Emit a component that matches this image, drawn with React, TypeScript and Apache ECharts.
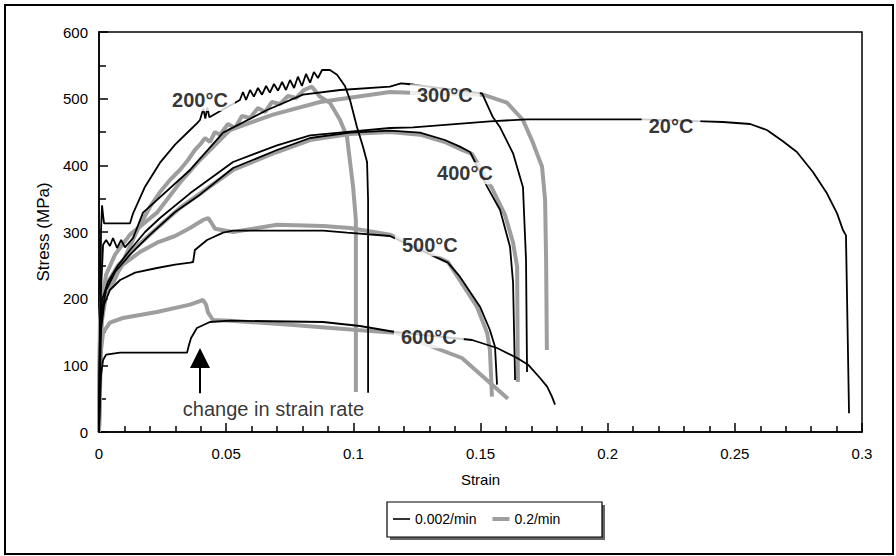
import React, { useEffect, useRef } from 'react';
import * as echarts from 'echarts';

// Stress–strain curves: [strain, stress MPa]
const black20 = [[0,0],[0.0002,108],[0.0004,168],[0.0012,198],[0.0035,225],[0.0075,250],[0.0122,273],[0.0181,300],[0.024,321],[0.0358,358],[0.0527,405],[0.07,430],[0.083,445],[0.1144,456],[0.1235,457],[0.1537,466],[0.1683,469],[0.2139,469],[0.2379,466],[0.2453,465],[0.256,462],[0.2626,453],[0.2689,436],[0.2744,420],[0.2807,390],[0.2862,358],[0.2902,328],[0.2925,303],[0.2937,295],[0.2949,28]];

const black200 = [[0,0],[0.0004,153],[0.0008,303],[0.0012,340],[0.0016,325],[0.002,313],[0.0122,313],[0.0134,328],[0.0181,368],[0.024,404],[0.0299,431],[0.0358,453],[0.0385,463],[0.0397,468],[0.041,485],[0.0418,470],[0.0426,487],[0.0434,472],[0.047,480],[0.0554,498],[0.0566,510],[0.0578,498],[0.0594,513],[0.0609,503],[0.0625,516],[0.0641,506],[0.0657,519],[0.0672,509],[0.0688,522],[0.0704,512],[0.072,525],[0.0735,513],[0.0751,528],[0.0767,516],[0.0782,533],[0.0798,519],[0.0814,537],[0.083,524],[0.0845,540],[0.0861,531],[0.0877,543],[0.0908,543],[0.0936,536],[0.0967,519],[0.0987,498],[0.1014,458],[0.1038,428],[0.1054,405],[0.1058,348],[0.1058,59]];

const grey200 = [[0,0],[0.0004,168],[0.0012,210],[0.0028,222],[0.0051,219],[0.0075,240],[0.0122,279],[0.0161,311],[0.0201,338],[0.024,360],[0.0279,378],[0.0318,393],[0.035,408],[0.0377,423],[0.0397,431],[0.0417,441],[0.0436,435],[0.0456,450],[0.0476,446],[0.0507,462],[0.0535,456],[0.0562,474],[0.0594,471],[0.0625,486],[0.0653,480],[0.068,495],[0.0712,492],[0.0743,504],[0.0775,501],[0.0806,513],[0.0837,518],[0.0869,503],[0.0908,494],[0.0948,468],[0.0975,443],[0.0999,368],[0.101,318],[0.101,60]];

const black300 = [[0,0],[0.0004,153],[0.0008,213],[0.0016,281],[0.0028,288],[0.0043,279],[0.0055,291],[0.0071,276],[0.0087,288],[0.0102,277],[0.0118,284],[0.0134,291],[0.0173,329],[0.0358,393],[0.0488,449],[0.0661,483],[0.0802,506],[0.0948,513],[0.1144,518],[0.1187,523],[0.1215,522],[0.1506,508],[0.1549,472],[0.1577,457],[0.1628,418],[0.1667,367],[0.1679,258],[0.1683,90]];

const grey300 = [[0,0],[0.0004,138],[0.0012,198],[0.0028,236],[0.0063,266],[0.0122,296],[0.0228,329],[0.0318,374],[0.0397,408],[0.0515,453],[0.0684,476],[0.0869,495],[0.1144,510],[0.1223,509],[0.151,506],[0.1604,494],[0.1667,468],[0.1706,434],[0.1742,398],[0.1754,348],[0.1758,258],[0.1761,123]];

const black400 = [[0,0],[0.0004,138],[0.0012,183],[0.0028,213],[0.0063,240],[0.0122,266],[0.0201,296],[0.0299,330],[0.0397,356],[0.0527,396],[0.07,423],[0.083,441],[0.0987,449],[0.1144,452],[0.1262,449],[0.136,438],[0.1419,428],[0.1459,420],[0.1526,368],[0.1577,333],[0.1616,278],[0.1628,224],[0.1636,78]];

const grey400 = [[0,0],[0.0004,153],[0.0016,198],[0.0035,225],[0.0075,250],[0.0142,276],[0.022,303],[0.0318,336],[0.0417,363],[0.0527,393],[0.07,420],[0.083,438],[0.0987,447],[0.1144,450],[0.1262,446],[0.136,435],[0.1427,423],[0.1467,417],[0.1545,366],[0.1596,326],[0.1628,284],[0.1644,248],[0.1647,75]];

const black500 = [[0,0],[0.0004,78],[0.0008,153],[0.002,191],[0.0043,213],[0.0083,228],[0.0142,239],[0.0228,246],[0.0299,251],[0.0358,254],[0.037,255],[0.0377,273],[0.0425,288],[0.0488,299],[0.0527,302],[0.0881,302],[0.0975,299],[0.1144,294],[0.1372,254],[0.1419,233],[0.1498,188],[0.1537,153],[0.1557,128],[0.1565,71]];

const grey500 = [[0,0],[0.0004,108],[0.0012,168],[0.0028,206],[0.0051,228],[0.0094,251],[0.0161,270],[0.0228,284],[0.0299,294],[0.0358,306],[0.0409,318],[0.0429,321],[0.044,315],[0.0456,305],[0.0527,300],[0.07,311],[0.0881,309],[0.0987,306],[0.1144,296],[0.1372,255],[0.1486,188],[0.1526,149],[0.1537,123],[0.1545,53]];

const black600 = [[0,0],[0.0004,48],[0.0008,86],[0.0016,108],[0.0028,116],[0.0083,119],[0.0346,119],[0.0354,131],[0.0362,141],[0.0385,156],[0.0436,165],[0.0515,167],[0.0881,165],[0.1026,159],[0.1164,150],[0.1467,138],[0.1565,126],[0.1644,111],[0.1687,101],[0.1734,81],[0.1762,68],[0.1781,53],[0.1793,41]];

const grey600 = [[0,0],[0.0004,63],[0.0008,123],[0.0016,149],[0.0043,164],[0.0094,171],[0.0228,180],[0.0358,191],[0.0409,198],[0.0421,191],[0.0429,179],[0.0448,168],[0.0515,167],[0.0751,161],[0.1014,153],[0.1164,149],[0.1427,111],[0.1537,74],[0.1608,50]];

// Annotations: [strain, stress, text]
const tempLabels = [
  [0.0397, 498, '200°C'],
  [0.136, 505, '300°C'],
  [0.2249, 459, '20°C'],
  [0.1439, 388, '400°C'],
  [0.1301, 280, '500°C'],
  [0.1297, 142, '600°C'],
];
const noteLabel = [[0.0686, 34, 'change in strain rate']];
const arrowFrom = [0.0397, 58];
const arrowTo = [0.0397, 111];

const slowName = '0.002/min';
const fastName = '0.2/min';
const slowCurves = [black20, black200, black300, black400, black500, black600];
const fastCurves = [grey200, grey300, grey400, grey500, grey600];

const BLACK = '#000';
const GREY = '#9e9e9e';
const FONT = 'Liberation Sans, Arial, Helvetica, sans-serif';

export default function App() {
  const ref = useRef<HTMLDivElement>(null);
  useEffect(() => {
    if (!ref.current) return;
    const chart = echarts.init(ref.current, undefined, { renderer: 'svg' });
    const series: any[] = [];
    fastCurves.forEach((d) => {
      series.push({
        name: fastName, type: 'line', data: d, symbol: 'none', showSymbol: false,
        lineStyle: { color: GREY, width: 4 }, itemStyle: { color: GREY }, z: 2,
      });
    });
    slowCurves.forEach((d) => {
      series.push({
        name: slowName, type: 'line', data: d, symbol: 'none', showSymbol: false,
        lineStyle: { color: BLACK, width: 1.8 }, itemStyle: { color: BLACK }, z: 3,
      });
    });
    series.push({
      name: 'labels', type: 'scatter', data: tempLabels, symbolSize: 0, z: 10,
      label: {
        show: true, position: 'inside', formatter: (p: any) => p.data[2],
        fontFamily: FONT, fontSize: 20, fontWeight: 'bold', color: '#000',
        backgroundColor: '#fff', padding: [1, 7],
      },
      markLine: {
        silent: true, symbol: ['none', 'triangle'], symbolSize: 20,
        lineStyle: { color: '#000', width: 2, type: 'solid' },
        label: { show: false },
        data: [[{ coord: arrowFrom }, { coord: arrowTo }]],
      },
    });
    series.push({
      name: 'note', type: 'scatter', data: noteLabel, symbolSize: 0, z: 10,
      label: {
        show: true, position: 'inside', formatter: (p: any) => p.data[2],
        fontFamily: FONT, fontSize: 20, color: '#000',
      },
    });

    chart.setOption({
      animation: false,
      textStyle: { fontFamily: FONT, color: '#000' },
      grid: {
        left: 99, top: 32, right: 34, bottom: 124, show: true,
        borderColor: '#000', borderWidth: 1.5, backgroundColor: 'transparent',
      },
      xAxis: {
        type: 'value', min: 0, max: 0.3, interval: 0.05,
        name: 'Strain', nameLocation: 'middle', nameGap: 40,
        nameTextStyle: { fontSize: 15, color: '#000', fontFamily: FONT },
        axisLine: { lineStyle: { color: '#000', width: 1.5 } },
        axisTick: { inside: true, length: 9, lineStyle: { color: '#000', width: 1.5 } },
        minorTick: { show: true, splitNumber: 5, length: 6, lineStyle: { color: '#000', width: 1.5 } },
        splitLine: { show: false },
        axisLabel: {
          fontSize: 15, color: '#000', margin: 14, fontFamily: FONT,
          formatter: (v: number) => String(parseFloat(v.toFixed(2))),
        },
      },
      yAxis: {
        type: 'value', min: 0, max: 600, interval: 100,
        name: 'Stress (MPa)', nameLocation: 'middle', nameGap: 43,
        nameTextStyle: { fontSize: 17, color: '#000', fontFamily: FONT },
        axisLine: { show: true, lineStyle: { color: '#000', width: 1.5 } },
        axisTick: { show: true, inside: true, length: 9, lineStyle: { color: '#000', width: 1.5 } },
        minorTick: { show: true, splitNumber: 2, length: 7, lineStyle: { color: '#000', width: 1.5 } },
        splitLine: { show: false },
        axisLabel: { fontSize: 15, color: '#000', margin: 11, fontFamily: FONT },
      },
      legend: {
        data: [
          { name: slowName, icon: 'path://M0,0M0,6.2L17,6.2L17,7.8L0,7.8ZM17,14', itemStyle: { color: BLACK } },
          { name: fastName, icon: 'path://M0,0M0,5L17,5L17,9L0,9ZM17,14', itemStyle: { color: GREY } },
        ],
        left: 393, top: 512, padding: 0,
        itemWidth: 17, itemHeight: 14, itemGap: 16,
        textStyle: { fontSize: 14, color: '#000', fontFamily: FONT },
      },
      graphic: [
        { type: 'rect', shape: { x: 5, y: 5, width: 888, height: 549 }, style: { fill: 'none', stroke: '#000', lineWidth: 2 }, silent: true },
        { type: 'rect', shape: { x: 390, y: 505, width: 215, height: 35 }, style: { fill: '#666' }, silent: true, z: -1 },
        { type: 'rect', shape: { x: 387, y: 502, width: 215, height: 35 }, style: { fill: '#fff', stroke: '#000', lineWidth: 1.2 }, silent: true, z: -1 },
      ],
      series,
    });
    return () => chart.dispose();
  }, []);
  return <div ref={ref} style={{ position: 'fixed', left: 0, top: 0, width: 896, height: 556, background: '#fff' }} />;
}
